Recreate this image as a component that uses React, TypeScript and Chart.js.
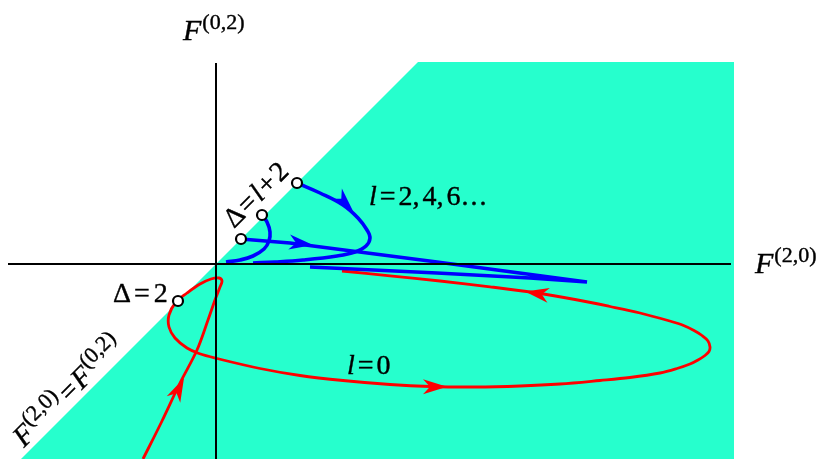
import React, { useEffect, useRef } from "react";
import { Chart, registerables } from "chart.js";

Chart.register(...registerables);

// Axis ranges (data units: F(2,0) horizontally, F(0,2) vertically)
const X_MIN = -2.16;
const X_MAX = 6.03;
const Y_MIN = -1.95;
const Y_MAX = 2.64;

// Allowed region (bounded by F(2,0) = F(0,2))
const regionX = [-1.95, 2.02, 5.18, 5.18];
const regionY = [-1.95, 2.02, 2.02, -1.95];

// Coordinate axes
const axisHX = [-2.08, 5.15];
const axisHY = [0, 0];
const axisVX = [0, 0];
const axisVY = [2.01, -1.95];

// l = 0 trajectory (red)
const redX = [-0.73, -0.54, -0.36, -0.19, -0.08, -0.01, 0.04, 0.06, 0.03, -0.05, -0.16, -0.29, -0.4, -0.47, -0.47, -0.41, -0.29, -0.17, 0.01, 0.44, 0.84, 1.27, 1.74, 2.14, 2.59, 3.04, 3.44, 3.84, 4.14, 4.44, 4.61, 4.74, 4.82, 4.89, 4.93, 4.94, 4.92, 4.86, 4.78, 4.67, 4.52, 4.24, 3.94, 3.59, 3.21, 2.74, 2.24, 1.74, 1.26];
const redY = [-1.95, -1.57, -1.19, -0.86, -0.56, -0.36, -0.23, -0.17, -0.14, -0.15, -0.2, -0.29, -0.38, -0.51, -0.63, -0.74, -0.84, -0.895, -0.945, -1.045, -1.115, -1.165, -1.205, -1.225, -1.23, -1.22, -1.2, -1.165, -1.135, -1.09, -1.045, -1.0, -0.96, -0.915, -0.875, -0.83, -0.77, -0.715, -0.665, -0.612, -0.565, -0.49, -0.425, -0.355, -0.29, -0.228, -0.17, -0.118, -0.07];

// l = 2,4,6... trajectories (blue)
const blueAX = [0.81, 1.04, 1.27, 1.42, 1.51, 1.54, 1.5, 1.39, 1.21, 0.87, 0.59, 0.37];
const blueAY = [0.81, 0.71, 0.59, 0.46, 0.34, 0.26, 0.18, 0.12, 0.08, 0.04, 0.02, 0.01];
const blueBX = [0.46, 0.51, 0.54, 0.53, 0.48, 0.37, 0.24, 0.1];
const blueBY = [0.49, 0.42, 0.32, 0.23, 0.15, 0.08, 0.04, 0.02];
const blueCX = [0.25, 0.74, 2.21, 3.71, 3.14, 2.21, 0.94];
const blueCY = [0.25, 0.21, 0.02, -0.18, -0.14, -0.09, -0.03];

// Fixed points (circles)
const fixedX = [0.81, 0.46, 0.25, -0.38];
const fixedY = [0.81, 0.49, 0.25, -0.37];

// Arrow heads: tip position and direction
const arrowX = [-0.32, 2.31, 3.09, 1.37, 0.97];
const arrowY = [-1.14, -1.228, -0.275, 0.53, 0.19];
const arrowDX = [0.35, 1, -1.7, 1, 3.45];
const arrowDY = [0.72, 0, 0.28, -1.05, -0.43];
const arrowColor = ["#ff0000", "#ff0000", "#ff0000", "#0000ff", "#0000ff"];

type Seg = { t: string; it?: boolean; sup?: boolean; gap?: number; size?: number };
type Label = { x: number; y: number; rot: number; align: "left" | "center"; segs: Seg[] };

const LABELS: Label[] = [
  { x: -0.33, y: 2.24, rot: 0, align: "left", segs: [{ t: "F", it: true, size: 30 }, { t: "(0,2)", sup: true, gap: 1 }] },
  { x: 5.39, y: -0.09, rot: 0, align: "left", segs: [{ t: "F", it: true, size: 30 }, { t: "(2,0)", sup: true, gap: 1 }] },
  {
    x: 1.53, y: 0.59, rot: 0, align: "left",
    segs: [
      { t: "l", it: true }, { t: "=", gap: 3 }, { t: "2,", gap: 3 }, { t: "4,", gap: 3 },
      { t: "6", gap: 3 }, { t: ".", gap: 1 }, { t: ".", gap: 2 }, { t: ".", gap: 2 },
    ],
  },
  { x: 1.31, y: -1.1, rot: 0, align: "left", segs: [{ t: "l", it: true }, { t: "=", gap: 3 }, { t: "0", gap: 3 }] },
  { x: -1.03, y: -0.38, rot: 0, align: "left", segs: [{ t: "Δ" }, { t: "=", gap: 3 }, { t: "2", gap: 4 }] },
  {
    x: 0.46, y: 0.63, rot: -45, align: "center",
    segs: [{ t: "Δ" }, { t: "=", gap: 2 }, { t: "l", it: true, gap: 2 }, { t: "+", gap: 2 }, { t: "2", gap: 2 }],
  },
  {
    x: -1.92, y: -1.84, rot: -45, align: "left",
    segs: [
      { t: "F", it: true, size: 29 }, { t: "(2,0)", sup: true, gap: 1 }, { t: "=", gap: 3 },
      { t: "F", it: true, gap: 2, size: 29 }, { t: "(0,2)", sup: true, gap: 1 },
    ],
  },
];

const MAIN_SIZE = 28;
const SUP_SIZE = 22;
const SUP_RAISE = 11;
const FONT = '"Liberation Serif", "Times New Roman", serif';

const pts = (xs: number[], ys: number[]) => xs.map((x, i) => ({ x, y: ys[i] }));

const overlayPlugin = {
  id: "overlay",
  afterDatasetsDraw(chart: any) {
    const ctx: CanvasRenderingContext2D = chart.ctx;
    const xs = chart.scales.x;
    const ys = chart.scales.y;
    // arrows
    for (let i = 0; i < arrowX.length; i++) {
      const tx = xs.getPixelForValue(arrowX[i]);
      const ty = ys.getPixelForValue(arrowY[i]);
      const bx = xs.getPixelForValue(arrowX[i] - arrowDX[i] * 0.01);
      const by = ys.getPixelForValue(arrowY[i] - arrowDY[i] * 0.01);
      let ux = tx - bx;
      let uy = ty - by;
      const len = Math.hypot(ux, uy) || 1;
      ux /= len;
      uy /= len;
      const nx = -uy;
      const ny = ux;
      const L = 24;
      const W = 7.5;
      const notch = 7;
      ctx.save();
      ctx.fillStyle = arrowColor[i];
      ctx.beginPath();
      ctx.moveTo(tx, ty);
      ctx.lineTo(tx - L * ux + W * nx, ty - L * uy + W * ny);
      ctx.lineTo(tx - (L - notch) * ux, ty - (L - notch) * uy);
      ctx.lineTo(tx - L * ux - W * nx, ty - L * uy - W * ny);
      ctx.closePath();
      ctx.fill();
      ctx.restore();
    }
    // labels
    for (const lab of LABELS) {
      const px = xs.getPixelForValue(lab.x);
      const py = ys.getPixelForValue(lab.y);
      ctx.save();
      ctx.translate(px, py);
      ctx.rotate((lab.rot * Math.PI) / 180);
      ctx.fillStyle = "#000";
      ctx.strokeStyle = "#000";
      ctx.lineWidth = 0.4;
      ctx.textBaseline = "alphabetic";
      ctx.textAlign = "left";
      const fontOf = (s: Seg) =>
        `${s.it ? "italic " : ""}${s.size || (s.sup ? SUP_SIZE : MAIN_SIZE)}px ${FONT}`;
      let total = 0;
      for (const s of lab.segs) {
        ctx.font = fontOf(s);
        total += (s.gap || 0) + ctx.measureText(s.t).width;
      }
      let cx = lab.align === "center" ? -total / 2 : 0;
      for (const s of lab.segs) {
        ctx.font = fontOf(s);
        cx += s.gap || 0;
        const cy = s.sup ? -SUP_RAISE : 0;
        ctx.fillText(s.t, cx, cy);
        ctx.strokeText(s.t, cx, cy);
        cx += ctx.measureText(s.t).width;
      }
      ctx.restore();
    }
  },
};

export default function App() {
  const ref = useRef<HTMLCanvasElement | null>(null);
  useEffect(() => {
    if (!ref.current) return;
    const line = (data: any, color: string, width: number, order: number, tension = 0) => ({
      data,
      showLine: true,
      borderColor: color,
      borderWidth: width,
      pointRadius: 0,
      tension,
      fill: false,
      order,
    });
    const chart = new Chart(ref.current, {
      type: "scatter",
      data: {
        datasets: [
          {
            data: pts(regionX, regionY),
            showLine: true,
            borderWidth: 0,
            borderColor: "rgba(0,0,0,0)",
            backgroundColor: "#26ffcd",
            pointRadius: 0,
            fill: { value: Y_MIN },
            order: 10,
          } as any,
          line(pts(redX, redY), "#ff0000", 2.8, 5, 0.35),
          line(pts(blueAX, blueAY), "#0000ff", 3.6, 4, 0.4),
          line(pts(blueBX, blueBY), "#0000ff", 3.6, 4, 0.4),
          line(pts(blueCX, blueCY), "#0000ff", 3.6, 4, 0),
          line(pts(axisHX, axisHY), "#000000", 2, 2),
          line(pts(axisVX, axisVY), "#000000", 2, 2),
          {
            data: pts(fixedX, fixedY),
            showLine: false,
            pointRadius: 5,
            pointBorderWidth: 2.2,
            pointBackgroundColor: "#ffffff",
            pointBorderColor: "#000000",
            order: 1,
          } as any,
        ],
      },
      options: {
        animation: false,
        responsive: false,
        devicePixelRatio: 1,
        layout: { padding: 0, autoPadding: false },
        plugins: { legend: { display: false }, tooltip: { enabled: false } },
        scales: {
          x: { type: "linear", min: X_MIN, max: X_MAX, display: false },
          y: { type: "linear", min: Y_MIN, max: Y_MAX, display: false },
        },
      },
      plugins: [overlayPlugin],
    });
    const fonts: any = (document as any).fonts;
    if (fonts && fonts.load) {
      Promise.all([
        fonts.load(`${MAIN_SIZE}px "Liberation Serif"`),
        fonts.load(`italic ${MAIN_SIZE}px "Liberation Serif"`),
      ])
        .then(() => chart.draw())
        .catch(() => {});
    }
    return () => chart.destroy();
  }, []);
  return (
    <div style={{ position: "fixed", left: 0, top: 0, width: 819, height: 459, background: "#fff" }}>
      <canvas ref={ref} width={819} height={459} style={{ width: 819, height: 459 }} />
    </div>
  );
}
